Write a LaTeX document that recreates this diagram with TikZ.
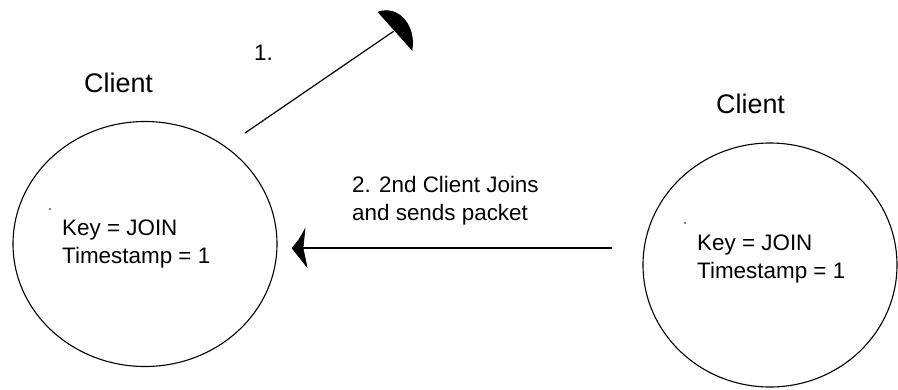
\documentclass[tikz,border=0pt]{standalone}
\usepackage{fontspec}
\setmainfont{Liberation Sans}
\usetikzlibrary{shapes.geometric}
\begin{document}
\begin{tikzpicture}[x=1bp,y=-1bp,
  bubble/.style={draw, ellipse, line width=1.1bp, inner sep=0pt},
  lbl/.style={anchor=base west, inner sep=0pt, font=\fontsize{22.5}{28}\selectfont},
  title/.style={anchor=base west, inner sep=0pt, font=\fontsize{27}{32}\selectfont},
  conn/.style={line width=1.2bp},
  tipfill/.style={fill=black, draw=black, line width=0.6bp}]
\useasboundingbox (0,0) rectangle (898,389);
\fill[white] (0,0) rectangle (898,389);

% clients
\node[bubble, minimum width=264bp, minimum height=245bp] (L) at (145,244) {};
\node[bubble, minimum width=254bp, minimum height=244bp] (R) at (770,265) {};

\node[title] (Lt) at (84,92) {Client};
\node[title] (Rt) at (716,113) {Client};

\node[lbl] (Lk1) at (62,235) {Key = JOIN};
\node[lbl] (Lk2) at (62,263) {Timestamp = 1};
\node[lbl] (Rk1) at (697,250) {Key = JOIN};
\node[lbl] (Rk2) at (697,278) {Timestamp = 1};

\fill (50,209) circle (0.8);
\fill (685,223) circle (0.8);

% arrow 1
\coordinate (a1s) at (245,133);
\coordinate (a1e) at (394,31);
\draw[conn] (a1s) -- (a1e);
\filldraw[tipfill] (378,12) .. controls (399,5) and (416,26) .. (412,50) -- cycle;
\node[lbl] (n1) at (254,60) {1.};

% arrow 2
\coordinate (a2s) at (612,248);
\coordinate (a2e) at (303,248);
\draw[conn] (a2s) -- (a2e);
\filldraw[tipfill] (292,248) .. controls (299,240) .. (305,229) -- (303,248) -- (307,267) .. controls (299,258) .. (292,248) -- cycle;
\node[lbl] (t2a) at (352,192) {2. 2nd Client Joins};
\node[lbl] (t2b) at (352,220) {and sends packet};
\end{tikzpicture}
\end{document}
